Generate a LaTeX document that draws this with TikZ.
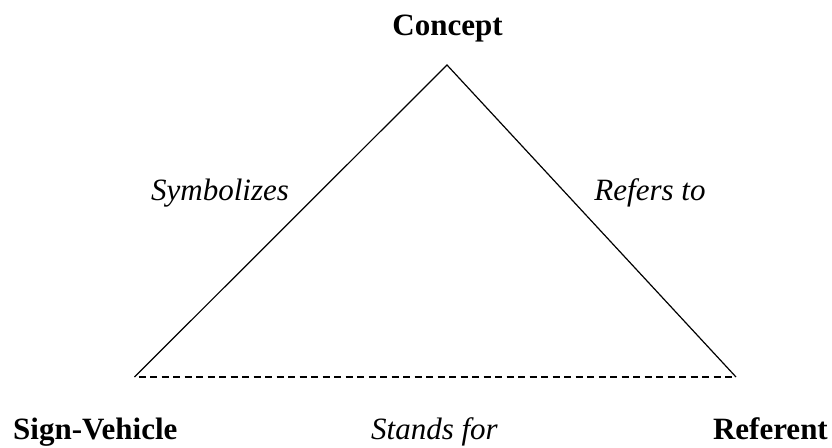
\documentclass[tikz,border=0pt]{standalone}
\usepackage{fontspec}
\setmainfont{Liberation Serif}
\usepackage{tikz}
\usetikzlibrary{calc}

\begin{document}
\begin{tikzpicture}[x=1pt,y=-1pt,
    corner/.style={font=\fontsize{31pt}{37pt}\selectfont\bfseries,inner sep=0pt,anchor=base},
    relation/.style={font=\fontsize{31pt}{37pt}\selectfont\itshape,inner sep=0pt,anchor=base},
    side/.style={line width=1.2pt},
    base line/.style={line width=1.2pt,dash pattern=on 7pt off 4.5pt,dash phase=-4pt}]
  % Constants
  \pgfmathsetmacro\w{832}
  \pgfmathsetmacro\h{447}
  % Boundary
  \path[use as bounding box] (0,0) rectangle (\w,\h);
  % Triangle corners
  \coordinate (apex) at (447,65);
  \coordinate (sv) at (134.5,377);
  \coordinate (ref) at (736,377);
  % Triangle
  \draw[side] (sv) -- (apex) -- (ref);
  \draw[base line] (sv) -- (ref);
  % Corner labels
  \node[corner] (concept) at (447.5,35) {Concept};
  \node[corner,anchor=base west] (signvehicle) at (13,439) {Sign-Vehicle};
  \node[corner,anchor=base east] (referent) at (828,439) {Referent};
  % Relation labels
  \node[relation] (symbolizes) at (220,200) {Symbolizes};
  \node[relation] (refersto) at (650,200) {Refers to};
  \node[relation] (standsfor) at (434.5,439) {Stands for};
\end{tikzpicture}
\end{document}
